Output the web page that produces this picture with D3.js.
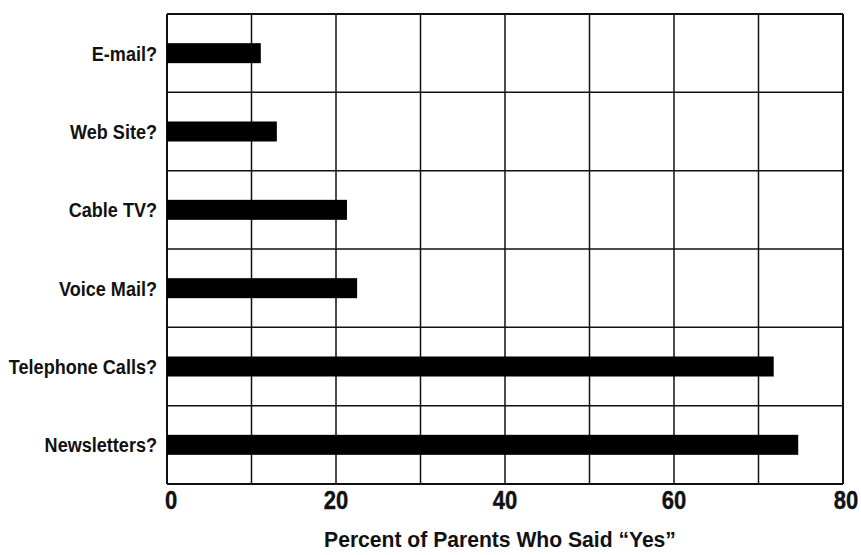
<!DOCTYPE html>
<html>
<head>
<meta charset="utf-8">
<script src="https://cdn.jsdelivr.net/npm/d3@7"></script>
<style>
  body { margin: 0; background: #fff; }
  text { font-family: "Liberation Sans", Arial, sans-serif; font-weight: bold; fill: #111; }
</style>
</head>
<body>
<svg></svg>
<script>
let width = 861;
let height = 555;
let svg = d3.select("svg")
            .attr("width", width)
            .attr("height", height);

// categories top to bottom, percent saying "Yes"
let categories = ["E-mail?", "Web Site?", "Cable TV?", "Voice Mail?", "Telephone Calls?", "Newsletters?"];
let values = [11.1, 13.0, 21.3, 22.5, 71.8, 74.7];
let xTicks = [0, 20, 40, 60, 80];
let xGrid = [0, 10, 20, 30, 40, 50, 60, 70, 80];

let plotLeft = 167, plotRight = 843, plotTop = 14, plotBottom = 484;

let xScale = d3.scaleLinear()
               .domain([0, 80])
               .range([plotLeft, plotRight]);

let yScale = d3.scaleBand()
               .domain(categories)
               .range([plotTop, plotBottom]);

let g = svg.append("g");

// vertical grid
g.selectAll(".vgrid")
  .data(xGrid)
  .enter()
  .append("line")
  .attr("class", "vgrid")
  .attr("x1", (d) => xScale(d))
  .attr("x2", (d) => xScale(d))
  .attr("y1", plotTop)
  .attr("y2", plotBottom)
  .attr("stroke", "#111")
  .attr("stroke-width", (d, i) => (i === 0 || i === xGrid.length - 1) ? 2 : 1.5);

// horizontal band separators
let bounds = categories.map((c) => yScale(c)).concat([plotBottom]);
g.selectAll(".hgrid")
  .data(bounds)
  .enter()
  .append("line")
  .attr("class", "hgrid")
  .attr("x1", plotLeft)
  .attr("x2", plotRight)
  .attr("y1", (d) => d)
  .attr("y2", (d) => d)
  .attr("stroke", "#111")
  .attr("stroke-width", (d, i) => (i === 0 || i === bounds.length - 1) ? 2 : 1.5);

// bars
let barH = 20;
g.selectAll(".bar")
  .data(values)
  .enter()
  .append("rect")
  .attr("class", "bar")
  .attr("x", xScale(0))
  .attr("y", (d, i) => yScale(categories[i]) + yScale.bandwidth() / 2 - barH / 2)
  .attr("width", (d) => xScale(d) - xScale(0))
  .attr("height", barH)
  .attr("fill", "#000");

// category labels
g.selectAll(".cat")
  .data(categories)
  .enter()
  .append("text")
  .attr("class", "cat")
  .attr("transform", (d) => "translate(" + (plotLeft - 10) + "," + (yScale(d) + yScale.bandwidth() / 2) + ") scale(0.86,1)")
  .attr("dy", "0.36em")
  .attr("text-anchor", "end")
  .style("font-size", "21px")
  .text((d) => d);

// x tick labels
g.selectAll(".tick")
  .data(xTicks)
  .enter()
  .append("text")
  .attr("class", "tick")
  .attr("transform", (d) => "translate(" + (xScale(d) + (d === 0 ? 4 : (d === 80 ? 3 : 0))) + ",509) scale(0.88,1)")
  .attr("text-anchor", "middle")
  .style("font-size", "25px")
  .style("stroke", "#111")
  .style("stroke-width", 0.4)
  .text((d) => d);

// axis title
svg.append("text")
   .attr("transform", "translate(500,547) scale(0.96,1)")
   .attr("text-anchor", "middle")
   .style("font-size", "22px")
   .text("Percent of Parents Who Said \u201CYes\u201D");
</script>
</body>
</html>
